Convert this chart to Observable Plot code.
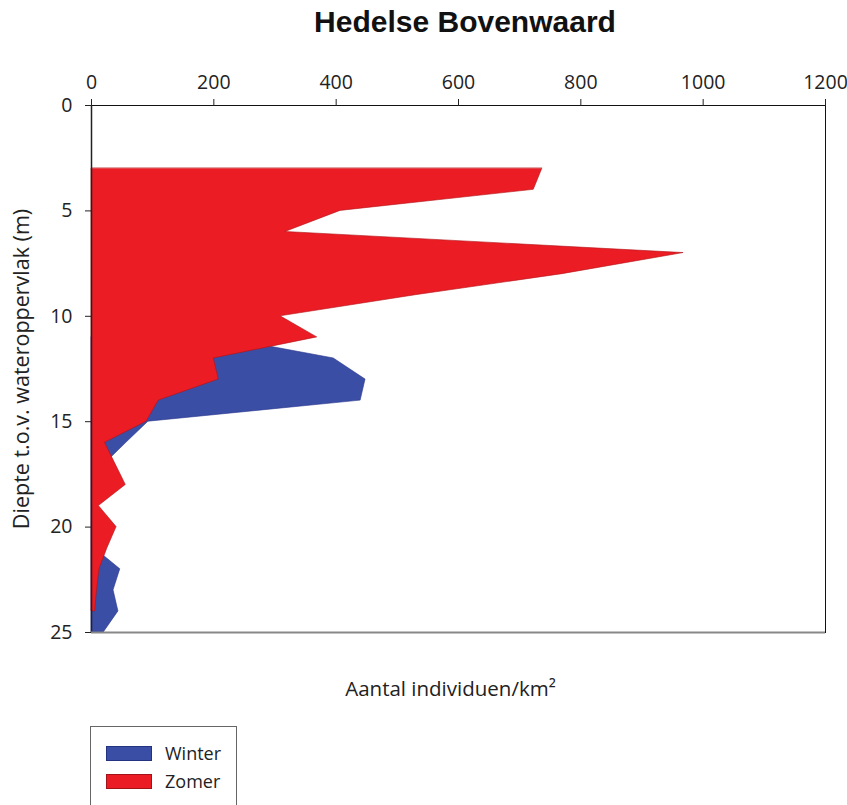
<!DOCTYPE html>
<html>
<head>
<meta charset="utf-8">
<script src="https://cdn.jsdelivr.net/npm/d3@7"></script>
<script src="https://cdn.jsdelivr.net/npm/@observablehq/plot@0.6"></script>
<style>
  body { margin: 0; background: white; font-family: "Open Sans", sans-serif; }
  #title { height: 50px; line-height: 44px; font-family: "Liberation Sans", Arial, sans-serif; font-weight: bold; font-size: 30px; text-align: center; padding-left: 83px; box-sizing: border-box; width: 847px; color: #111; }
  #legend { position: relative; margin-top: 16px; margin-left: 90px; width: 147px; height: 100px; border: 1px solid #666; box-sizing: border-box; }
  .sw { position: absolute; left: 15px; width: 46px; height: 15px; box-sizing: border-box; }
  .lb { position: absolute; left: 74px; font-size: 18px; color: #222; line-height: 20px; }
</style>
</head>
<body>
<div id="title">Hedelse Bovenwaard</div>
<div id="chart"></div>
<div id="legend">
  <div class="sw" style="top:19px;background:#3B4EA6;border:1px solid #24337f"></div>
  <div class="lb" style="top:16px">Winter</div>
  <div class="sw" style="top:47px;background:#EC1C24;border:1px solid #a01418"></div>
  <div class="lb" style="top:44px">Zomer</div>
</div>
<script>
// Zomer (summer) series
const depthZomer = [3, 4, 5, 6, 7, 8, 9, 10, 11, 12, 13, 14, 15, 16, 17, 18, 19, 20, 21, 22, 23, 24];
const zomer      = [737, 723, 407, 317, 968, 770, 530, 309, 369, 200, 208, 110, 90, 22, 39, 56, 12, 41, 26, 13, 9, 6];
// Winter series
const depthWinter = [11, 12, 13, 14, 15, 16, 17, 18, 19, 20, 21, 22, 23, 24, 25];
const winter      = [210, 396, 448, 440, 93, 57, 22, 10, 5, 5, 5, 47, 36, 44, 20];

const xTicks = [0, 200, 400, 600, 800, 1000, 1200];
const yTicks = [0, 5, 10, 15, 20, 25];
const xLabel = "Aantal individuen/km²";
const yLabel = "Diepte t.o.v. wateroppervlak (m)";

const zomerData = depthZomer.map((d, i) => ({depth: d, value: zomer[i]}));
const winterData = depthWinter.map((d, i) => ({depth: d, value: winter[i]}));

const chart = Plot.plot({
  width: 847,
  height: 660,
  marginTop: 55,
  marginLeft: 91,
  marginRight: 22,
  marginBottom: 78,
  style: {fontFamily: "'Open Sans', sans-serif", fontSize: "19.5px", color: "#222", background: "white"},
  x: {domain: [0, 1200], axis: null},
  y: {domain: [0, 25], reverse: true, axis: null},
  marks: [
    Plot.areaX(winterData, {x: "value", y: "depth", fill: "#3B4EA6", stroke: "#26348a", strokeWidth: 0.6}),
    Plot.areaX(zomerData, {x: "value", y: "depth", fill: "#EC1C24", stroke: "#b01218", strokeWidth: 0.6}),
    Plot.frame({stroke: "#111", strokeWidth: 1}),
    Plot.ruleX([0], {stroke: "#222", strokeWidth: 1.5}),
    Plot.ruleY([25], {stroke: "#888", strokeWidth: 2}),
    Plot.axisX({anchor: "top", ticks: xTicks, tickSize: 7, tickPadding: 10, label: null, fontSize: 19.5, tickFormat: d => String(d)}),
    Plot.axisY({anchor: "left", ticks: yTicks, tickSize: 6, tickPadding: 13, label: null, fontSize: 19.5, tickFormat: d => String(d)}),
    Plot.text([xLabel], {text: d => d, frameAnchor: "bottom", dy: 57, dx: -8, lineAnchor: "middle", textAnchor: "middle", fontSize: 20.5, fill: "#222"}),
    Plot.text([yLabel], {text: d => d, frameAnchor: "left", rotate: -90, dx: -69, lineAnchor: "middle", textAnchor: "middle", fontSize: 21.5, fill: "#222"})
  ]
});
document.getElementById("chart").appendChild(chart);
</script>
</body>
</html>
